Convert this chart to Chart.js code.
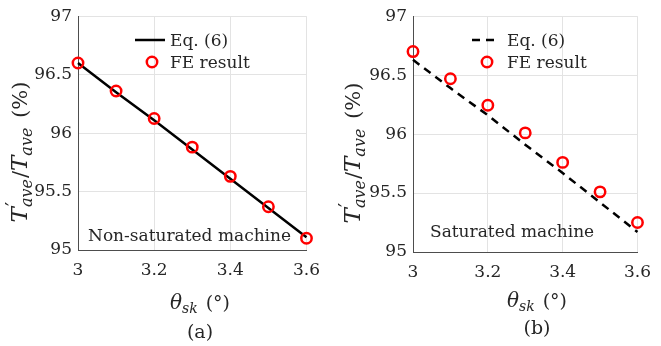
<!DOCTYPE html>
<html><head><meta charset="utf-8">
<script src="https://cdn.jsdelivr.net/npm/chart.js@4.4.1/dist/chart.umd.min.js"></script>
<style>
html,body{margin:0;padding:0;background:#fff;}
#wrap{position:relative;width:661px;height:346px;overflow:hidden;}
.c{position:absolute;top:0;}
</style></head><body>
<div id="wrap">
<div class="c" style="left:0;width:330px;height:346px"><canvas id="ca" width="330" height="346"></canvas></div>
<div class="c" style="left:330px;width:331px;height:346px"><canvas id="cb" width="331" height="346"></canvas></div>
</div>
<script>
// ---- data ----
const skewAngles = [3.0, 3.1, 3.2, 3.3, 3.4, 3.5, 3.6];
const eqNonSat   = [96.60, 96.35, 96.11, 95.86, 95.61, 95.36, 95.11];
const feNonSat   = [96.60, 96.36, 96.125, 95.88, 95.63, 95.37, 95.10];
const eqSat      = [96.63, 96.39, 96.16, 95.91, 95.67, 95.42, 95.17];
const feSat      = [96.70, 96.47, 96.245, 96.01, 95.76, 95.51, 95.25];
const xTickValues = [3, 3.2, 3.4, 3.6];
const yTickValues = [95, 95.5, 96, 96.5, 97];
const legendLabels = ['Eq. (6)', 'FE result'];
const notes = ['Non-saturated machine', 'Saturated machine'];
const panelLabels = ['(a)', '(b)'];

const SERIF = '"DejaVu Serif", serif';
const TXT = '#262626';

function drawRuns(ctx, runs, x, y) {
  let cx = x;
  let i = 0;
  while (i < runs.length) {
    const r = runs[i];
    ctx.font = r.f;
    if (r.stack) {
      const r2 = runs[i + 1];
      ctx.fillText(r.t, cx + (r.dx || 0), y + r.dy);
      const w1 = ctx.measureText(r.t).width + (r.dx || 0);
      ctx.font = r2.f;
      ctx.fillText(r2.t, cx, y + r2.dy);
      const w2 = ctx.measureText(r2.t).width;
      cx += Math.max(w1, w2);
      i += 2;
    } else {
      ctx.fillText(r.t, cx + (r.dx || 0), y + r.dy);
      cx += ctx.measureText(r.t).width + (r.dx || 0);
      i += 1;
    }
  }
  return cx - x;
}
function measureRuns(ctx, runs) {
  let w = 0, i = 0;
  while (i < runs.length) {
    const r = runs[i];
    ctx.font = r.f;
    if (r.stack) {
      const w1 = ctx.measureText(r.t).width + (r.dx || 0);
      ctx.font = runs[i + 1].f;
      const w2 = ctx.measureText(runs[i + 1].t).width;
      w += Math.max(w1, w2); i += 2;
    } else { w += ctx.measureText(r.t).width + (r.dx || 0); i += 1; }
  }
  return w;
}

const mainI = 'italic 23px ' + SERIF;
const subI = 'italic 16px ' + SERIF;
const upr = '21px ' + SERIF;
const yTitleRuns = [
  {t: 'T', f: mainI, dy: 0},
  {t: '\u2032', f: '19px ' + SERIF, dy: -8, dx: 1, stack: true},
  {t: 'ave', f: subI, dy: 5},
  {t: '/', f: upr, dy: 0, dx: 1},
  {t: 'T', f: mainI, dy: 0},
  {t: 'ave', f: subI, dy: 5},
  {t: ' (%)', f: upr, dy: 0, dx: 3}
];
const xTitleRuns = [
  {t: '\u03B8', f: 'italic 20px ' + SERIF, dy: 0},
  {t: 'sk', f: 'italic 14px ' + SERIF, dy: 4},
  {t: ' (\u00B0)', f: '19px ' + SERIF, dy: 0, dx: 2}
];

function makeDecor(idx, dashed, g) {
  return {
    id: 'decor' + idx,
    afterDraw(chart) {
      const ctx = chart.ctx;
      ctx.save();
      ctx.fillStyle = TXT;
      ctx.textBaseline = 'alphabetic';
      ctx.textAlign = 'left';
      // legend
      ctx.strokeStyle = '#000';
      ctx.lineWidth = 2.5;
      ctx.setLineDash(dashed ? [8, 6] : []);
      ctx.beginPath();
      ctx.moveTo(g.legX0, g.legY1); ctx.lineTo(g.legX1, g.legY1); ctx.stroke();
      ctx.setLineDash([]);
      ctx.strokeStyle = '#ff0000';
      ctx.lineWidth = 2.5;
      ctx.beginPath();
      ctx.arc(g.legCx, g.legY2, 5.2, 0, Math.PI * 2); ctx.stroke();
      ctx.font = '17px ' + SERIF;
      ctx.fillText(legendLabels[0], g.legTx, g.legY1 + 6);
      ctx.fillText(legendLabels[1], g.legTx, g.legY2 + 6);
      // note
      ctx.fillText(notes[idx], g.noteX, g.noteY);
      // x title
      const wx = measureRuns(ctx, xTitleRuns);
      drawRuns(ctx, xTitleRuns, g.xTitleCx - wx / 2, g.xTitleY);
      ctx.font = '19px ' + SERIF;
      ctx.textAlign = 'center';
      ctx.fillText(panelLabels[idx], g.xTitleCx, g.panelY);
      ctx.textAlign = 'left';
      // y title
      const wy = measureRuns(ctx, yTitleRuns);
      ctx.translate(g.yTitleX, g.yTitleCy);
      ctx.rotate(-Math.PI / 2);
      drawRuns(ctx, yTitleRuns, -wy / 2, 0);
      ctx.restore();
    }
  };
}

function makeChart(id, idx, eq, fe, dashed, g) {
  const fmt = v => (Math.round(v * 10) / 10).toString();
  return new Chart(document.getElementById(id), {
    type: 'line',
    data: {
      datasets: [
        {
          label: legendLabels[0],
          data: skewAngles.map((x, i) => ({x, y: eq[i]})),
          borderColor: '#000', borderWidth: 2.5,
          borderDash: dashed ? [8, 6] : [],
          pointRadius: 0, fill: false, tension: 0, order: 2, clip: false
        },
        {
          label: legendLabels[1],
          data: skewAngles.map((x, i) => ({x, y: fe[i]})),
          showLine: false,
          borderColor: '#ff0000', backgroundColor: 'rgba(0,0,0,0)',
          pointRadius: 5.2, pointBorderWidth: 2.5, pointStyle: 'circle',
          order: 1, clip: false
        }
      ]
    },
    options: {
      responsive: false, animation: false,
      layout: {padding: {left: 0, right: g.padRight, top: 12, bottom: 0}},
      plugins: {legend: {display: false}, tooltip: {enabled: false}},
      scales: {
        x: {
          type: 'linear', min: 3, max: 3.6,
          afterBuildTicks: s => { s.ticks = xTickValues.map(v => ({value: v})); },
          afterFit: s => { s.height = g.xHeight; },
          grid: {color: '#e3e3e3', lineWidth: 1, drawTicks: false},
          border: {display: true, color: '#4d4d4d', width: 1},
          ticks: {padding: 10, color: TXT, font: {family: SERIF, size: 17}, callback: fmt, maxRotation: 0}
        },
        y: {
          type: 'linear', min: 95, max: 97,
          afterBuildTicks: s => { s.ticks = yTickValues.map(v => ({value: v})); },
          afterFit: s => { s.width = g.yWidth; },
          grid: {color: '#e3e3e3', lineWidth: 1, drawTicks: false},
          border: {display: true, color: '#4d4d4d', width: 1},
          ticks: {padding: 6, color: TXT, font: {family: SERIF, size: 17}, callback: fmt}
        }
      }
    },
    plugins: [makeDecor(idx, dashed, g)]
  });
}

makeChart('ca', 0, eqNonSat, feNonSat, false, {
  padRight: 18, yWidth: 78, xHeight: 96,
  legX0: 135, legX1: 165, legY1: 40, legCx: 152, legY2: 62, legTx: 170,
  noteX: 88, noteY: 241,
  xTitleCx: 200, xTitleY: 309, panelY: 338,
  yTitleX: 27, yTitleCy: 152
});
makeChart('cb', 1, eqSat, feSat, true, {
  padRight: 13, yWidth: 83, xHeight: 94,
  legX0: 142, legX1: 168, legY1: 40, legCx: 157, legY2: 62, legTx: 177,
  noteX: 100, noteY: 237,
  xTitleCx: 207, xTitleY: 307, panelY: 334,
  yTitleX: 30, yTitleCy: 153
});
</script>
</body></html>
